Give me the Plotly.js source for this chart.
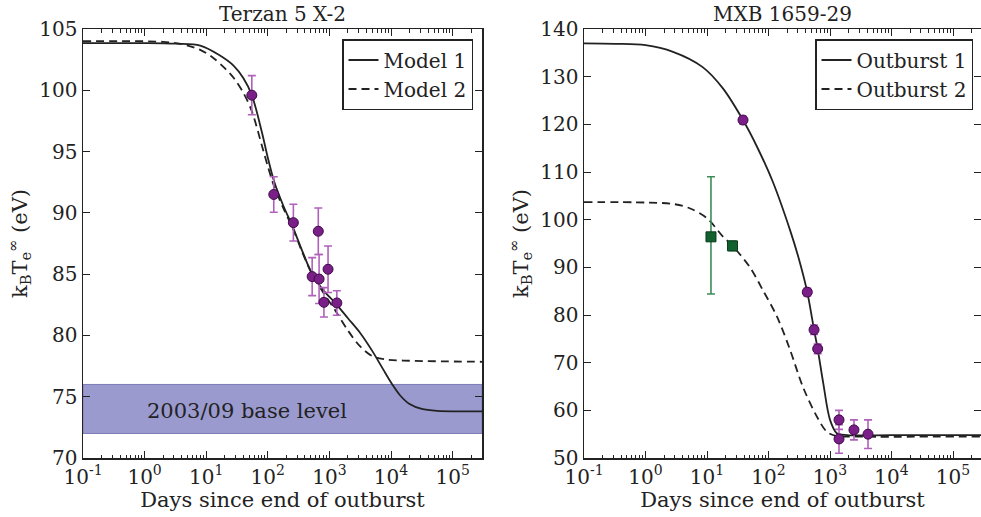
<!DOCTYPE html>
<html>
<head>
<meta charset="utf-8">
<script src="https://cdn.plot.ly/plotly-3.0.1.min.js"></script>
<style>
html,body{margin:0;padding:0;background:#fff;}
#chart{width:981px;height:517px;}
</style>
</head>
<body>
<div id="chart"></div>
<script>
// ---------- Terzan 5 X-2 (left panel) ----------
const terDays = [55, 125, 260, 660, 525, 680, 950, 815, 1320];
const terTemp = [99.6, 91.5, 89.2, 88.5, 84.8, 84.6, 85.4, 82.7, 82.65];
const terErr  = [1.6, 1.45, 1.5, 1.9, 1.55, 2.0, 1.9, 1.2, 1.0];

const model1Days = [0.1, 1, 3.2, 8, 16, 28, 40, 55, 80, 100, 126, 178, 257, 355, 525, 794, 1320, 2000, 3160, 5010, 7940, 10500, 14100, 20000, 31600, 56200, 300000];
const model1Temp = [103.85, 103.85, 103.8, 103.65, 102.9, 102.0, 101.0, 99.6, 96.6, 94.5, 92.6, 90.6, 88.8, 87.0, 85.0, 83.7, 82.5, 81.4, 80.2, 78.7, 77.0, 76.0, 75.1, 74.4, 74.0, 73.85, 73.8];

const model2Days = [0.1, 1, 2, 3.2, 5, 8, 12.6, 20, 28, 40, 55, 80, 100, 126, 178, 257, 355, 525, 794, 1260, 2000, 3160, 5010, 7940, 15800, 300000];
const model2Temp = [104.0, 104.0, 103.95, 103.85, 103.65, 103.3, 102.7, 101.8, 101.0, 99.8, 98.3, 95.5, 93.8, 92.2, 90.4, 88.7, 86.9, 85.0, 83.5, 82.0, 80.4, 79.1, 78.3, 78.05, 77.95, 77.85];

const baseLow = 72;
const baseHigh = 76;
const baseLabel = "2003/09 base level";

// ---------- MXB 1659-29 (right panel) ----------
const mxb1Days = [38.5, 427, 550, 630, 1400, 1400, 2450, 4150];
const mxb1Temp = [120.9, 84.8, 76.9, 72.9, 58.0, 54.0, 55.9, 55.0];
const mxb1Err  = [0.8, 0.8, 1.0, 1.0, 2.0, 3.0, 2.1, 3.0];

const mxb2Days = [11.6, 26];
const mxb2Temp = [96.4, 94.5];
const mxb2ErrPlus  = [12.6, 1.0];
const mxb2ErrMinus = [12.0, 1.0];

const out1Days = [0.1, 0.32, 1, 2.8, 8.5, 18, 38.5, 65, 117, 224, 316, 427, 550, 630, 776, 1000, 1290, 1900, 10000, 300000];
const out1Temp = [137.0, 136.9, 136.6, 135.2, 132.0, 127.6, 120.9, 115.3, 108.0, 97.8, 91.5, 84.8, 76.9, 72.9, 65.7, 58.0, 55.2, 54.8, 54.8, 54.8];

const out2Days = [0.1, 1, 2.8, 5.2, 10, 18, 26, 50, 81, 138, 224, 363, 617, 891, 1290, 2000, 300000];
const out2Temp = [103.7, 103.6, 103.3, 102.4, 100.3, 96.5, 94.5, 90.0, 85.2, 79.6, 72.7, 64.9, 58.6, 55.5, 54.6, 54.5, 54.5];

const xTickVals = [0.1, 1, 10, 100, 1000, 10000, 100000];
const xTickText = ["10<sup>-1</sup>", "10<sup>0</sup>", "10<sup>1</sup>", "10<sup>2</sup>", "10<sup>3</sup>", "10<sup>4</sup>", "10<sup>5</sup>"];

const panelTitles = ["Terzan 5 X-2", "MXB 1659-29"];
const xTitle = "Days since end of outburst";
const yTitle = "k<sub>B</sub>T<sub>e</sub><sup>∞</sup> (eV)";

const FONT = "DejaVu Serif, Liberation Serif, serif";
const purple = "#7b1f88";
const purpleErr = "#b062bb";
const green = "#11612f";
const greenErr = "#3d8c57";
const DASH = "8px,5px";

// minor tick positions (2..9 within each decade shown)
const minorVals = [];
xTickVals.forEach(function (d) { for (let k = 2; k <= 9; k++) minorVals.push(d * k); });

const traces = [
  {x: model1Days, y: model1Temp, type: "scatter", mode: "lines", name: "Model 1",
   line: {color: "#222", width: 1.8, shape: "spline", smoothing: 0.9}, xaxis: "x", yaxis: "y", legend: "legend"},
  {x: model2Days, y: model2Temp, type: "scatter", mode: "lines", name: "Model 2",
   line: {color: "#222", width: 1.8, dash: DASH, shape: "spline", smoothing: 0.9}, xaxis: "x", yaxis: "y", legend: "legend"},
  {x: terDays, y: terTemp, type: "scatter", mode: "markers", showlegend: false,
   marker: {color: purple, size: 10, line: {color: "#3d0a47", width: 1}},
   error_y: {type: "data", array: terErr, color: purpleErr, thickness: 1.6, width: 4},
   xaxis: "x", yaxis: "y"},
  {x: out1Days, y: out1Temp, type: "scatter", mode: "lines", name: "Outburst 1",
   line: {color: "#222", width: 1.8, shape: "spline", smoothing: 0.9}, xaxis: "x2", yaxis: "y2", legend: "legend2"},
  {x: out2Days, y: out2Temp, type: "scatter", mode: "lines", name: "Outburst 2",
   line: {color: "#222", width: 1.8, dash: DASH, shape: "spline", smoothing: 0.9}, xaxis: "x2", yaxis: "y2", legend: "legend2"},
  {x: mxb1Days, y: mxb1Temp, type: "scatter", mode: "markers", showlegend: false,
   marker: {color: purple, size: 10, line: {color: "#3d0a47", width: 1}},
   error_y: {type: "data", array: mxb1Err, color: purpleErr, thickness: 1.6, width: 4},
   xaxis: "x2", yaxis: "y2"},
  {x: mxb2Days, y: mxb2Temp, type: "scatter", mode: "markers", showlegend: false,
   marker: {color: green, size: 10, symbol: "square", line: {color: "#0a3a1c", width: 1}},
   error_y: {type: "data", symmetric: false, array: mxb2ErrPlus, arrayminus: mxb2ErrMinus, color: greenErr, thickness: 1.6, width: 4},
   xaxis: "x2", yaxis: "y2"}
];

function xAxis(domain, range, anchor) {
  return {
    type: "log", domain: domain, range: range, anchor: anchor,
    showline: true, linecolor: "#222", linewidth: 1.5, mirror: "allticks",
    ticks: "inside", ticklen: 7, tickwidth: 1, tickcolor: "#222",
    tickmode: "array", tickvals: xTickVals, ticktext: xTickText,
    minor: {ticks: "inside", ticklen: 3.5, tickwidth: 1, tickcolor: "#222",
            tickmode: "array", tickvals: minorVals, showgrid: false},
    showgrid: false, zeroline: false,
    tickfont: {family: FONT, size: 20, color: "#222"},
    title: {text: xTitle, font: {family: FONT, size: 21, color: "#222"}, standoff: 2},
    automargin: false
  };
}
function yAxis(domain, range, dtick, anchor) {
  return {
    domain: domain, range: range, anchor: anchor, dtick: dtick, tick0: 0,
    showline: true, linecolor: "#222", linewidth: 1.5, mirror: "ticks",
    ticks: "inside", ticklen: 7, tickwidth: 1, tickcolor: "#222",
    showgrid: false, zeroline: false,
    tickfont: {family: FONT, size: 20, color: "#222"},
    title: {text: yTitle, font: {family: FONT, size: 21, color: "#222"}, standoff: 6},
    automargin: false
  };
}

const yDom = [1 - 458 / 517, 1 - 29 / 517];
const layout = {
  width: 981, height: 517,
  margin: {l: 0, r: 0, t: 0, b: 0},
  paper_bgcolor: "#fff", plot_bgcolor: "#fff",
  font: {family: FONT, color: "#222"},
  xaxis: xAxis([83 / 981, 482 / 981], [-1, 5.477], "y"),
  yaxis: yAxis(yDom, [70, 105], 5, "x"),
  xaxis2: xAxis([584 / 981, 1], [-1, 5.455], "y2"),
  yaxis2: yAxis(yDom, [50, 140], 10, "x2"),
  legend: {x: 473 / 981, y: 1 - 39 / 517, xanchor: "right", yanchor: "top",
    bgcolor: "#fff", bordercolor: "#222", borderwidth: 1.5,
    font: {family: FONT, size: 20, color: "#222"}, tracegroupgap: 0},
  legend2: {x: 973 / 981, y: 1 - 39 / 517, xanchor: "right", yanchor: "top",
    bgcolor: "#fff", bordercolor: "#222", borderwidth: 1.5,
    font: {family: FONT, size: 20, color: "#222"}, tracegroupgap: 0},
  shapes: [
    {type: "rect", xref: "x domain", yref: "y", x0: 0, x1: 1, y0: baseLow, y1: baseHigh,
     fillcolor: "#9a9acf", line: {color: "#7c7cb8", width: 1}, layer: "below"}
  ],
  annotations: [
    {text: panelTitles[0], xref: "x domain", yref: "paper", x: 0.5, y: 1 - 29 / 517, yanchor: "bottom", yshift: 1,
     showarrow: false, font: {family: FONT, size: 20, color: "#222"}},
    {text: panelTitles[1], xref: "x2 domain", yref: "paper", x: 0.5, y: 1 - 29 / 517, yanchor: "bottom", yshift: 1,
     showarrow: false, font: {family: FONT, size: 20, color: "#222"}},
    {text: baseLabel, xref: "x", yref: "y", x: 1.66, y: (baseLow + baseHigh) / 2 - 0.2,
     showarrow: false, font: {family: FONT, size: 21, color: "#222"}}
  ]
};

Plotly.newPlot("chart", traces, layout, {staticPlot: true, displayModeBar: false});
</script>
</body>
</html>
